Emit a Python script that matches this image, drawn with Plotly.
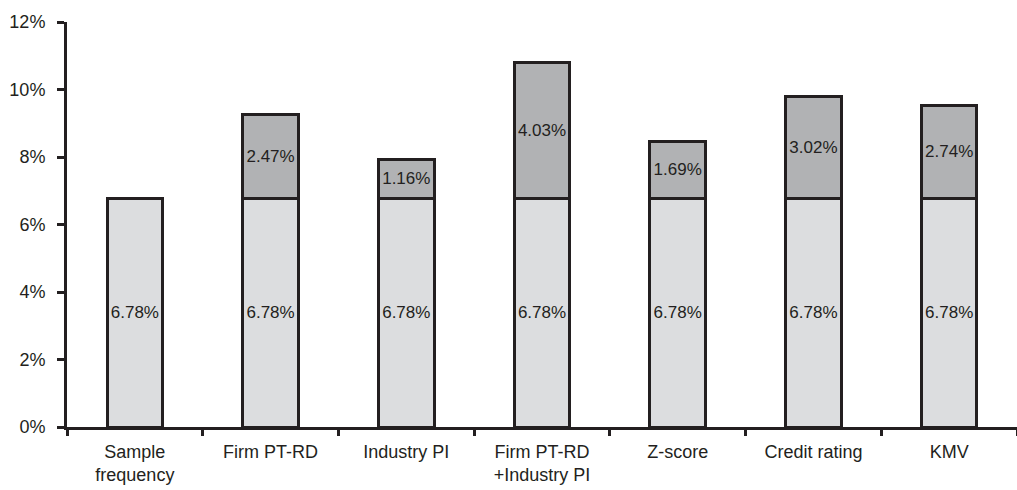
import plotly.graph_objects as go

# Default prediction rates by model (percent)
categories = ["Sample<br>frequency", "Firm PT-RD", "Industry PI", "Firm PT-RD<br>+Industry PI",
              "Z-score", "Credit rating", "KMV"]
base_rate = [6.78, 6.78, 6.78, 6.78, 6.78, 6.78, 6.78]
improvement = [0.0, 2.47, 1.16, 4.03, 1.69, 3.02, 2.74]
y_ticks = [0, 2, 4, 6, 8, 10, 12]
y_tick_labels = ["0%", "2%", "4%", "6%", "8%", "10%", "12%"]

ink = "#231f20"
font_family = "Liberation Sans, Arial, sans-serif"

fig = go.Figure()
fig.add_trace(go.Bar(
    x=categories, y=base_rate,
    marker=dict(color="#dcdddf", line=dict(color=ink, width=3)),
    text=[f"{v:.2f}%" for v in base_rate],
    textposition="inside", insidetextanchor="middle",
    textfont=dict(family=font_family, size=17, color=ink),
    width=0.41, showlegend=False, hoverinfo="skip",
))
fig.add_trace(go.Bar(
    x=categories, y=[v if v > 0 else None for v in improvement],
    marker=dict(color="#b1b2b4", line=dict(color=ink, width=3)),
    text=[f"{v:.2f}%" if v > 0 else "" for v in improvement],
    textposition="inside", insidetextanchor="middle",
    textfont=dict(family=font_family, size=17, color=ink),
    width=0.41, showlegend=False, hoverinfo="skip",
))

fig.update_layout(
    barmode="stack",
    width=1017, height=490,
    margin=dict(l=67, r=0, t=22, b=63),
    plot_bgcolor="white", paper_bgcolor="white",
    font=dict(family=font_family, size=18, color=ink),
    uniformtext=dict(minsize=17, mode="show"),
)
fig.update_xaxes(
    type="category", range=[-0.5, 6.5], automargin=False,
    showline=True, linecolor=ink, linewidth=3,
    ticks="outside", tickson="boundaries", ticklen=6, tickwidth=2.5, tickcolor=ink,
    ticklabelstandoff=6,
    showgrid=False, tickfont=dict(family=font_family, size=18, color=ink),
)
fig.update_yaxes(
    range=[0, 12], tickvals=y_ticks, ticktext=y_tick_labels, automargin=False,
    showline=True, linecolor=ink, linewidth=3,
    ticks="outside", ticklen=7, tickwidth=2.5, tickcolor=ink,
    ticklabelstandoff=8,
    showgrid=False, zeroline=False, tickfont=dict(family=font_family, size=18, color=ink),
)

fig.write_html("out.html")
